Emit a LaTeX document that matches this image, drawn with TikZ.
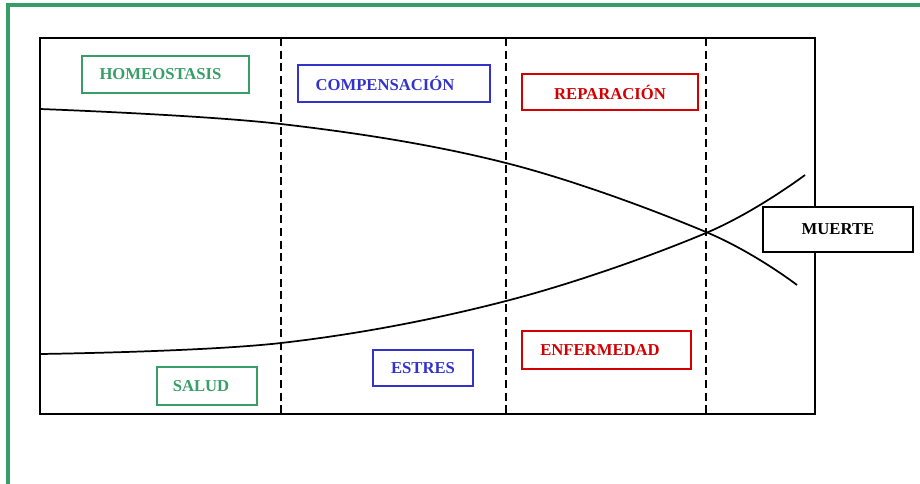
\documentclass[tikz,border=0pt]{standalone}
\usepackage{fontspec}
\setmainfont{Liberation Serif}
\definecolor{verde}{RGB}{56,158,104}
\definecolor{azul}{RGB}{51,51,204}
\definecolor{rojo}{RGB}{210,0,0}
\tikzset{
  etiqueta/.style={draw,line width=1.2pt,inner sep=0pt,
    font=\fontsize{12.5}{14}\selectfont\bfseries},
  limite/.style={line width=1.8pt,dash pattern=on 6pt off 3.5pt},
  curva/.style={line width=1.3pt}
}
\begin{document}
\begin{tikzpicture}[x=0.75pt,y=-0.75pt]
			\useasboundingbox (0,0) rectangle (920,484);
			% marco verde
			\draw [verde,line width=3pt] (7.5,490) -- (7.5,5.5) -- (930,5.5);
			% recuadro principal
			\draw [line width=1.3pt] (40,38) rectangle (815,414);
			\foreach \x in {281,506,706}
				\draw [limite] (\x,38) -- (\x,417);
			% curvas
			\draw [curva] plot [smooth,tension=0.6] coordinates {(40,109) (281,124) (506,163) (706,232) (797,285)};
			\draw [curva] plot [smooth,tension=0.6] coordinates {(40,354) (281,343) (506,301) (706,233) (805,175)};
			% etiquetas
			\node [etiqueta,verde,minimum width=125.25pt,minimum height=27.75pt] (homeostasis) at (165.5,74.5) {HOMEOSTASIS\hspace*{7.5pt}};
			\node [etiqueta,azul,minimum width=144pt,minimum height=27.75pt] (compensacion) at (394,83.5) {COMPENSACIÓN\hspace*{13.5pt}};
			\node [etiqueta,rojo,minimum width=132pt,minimum height=27pt] (reparacion) at (610,92) {REPARACIÓN};
			\node [etiqueta,fill=white,minimum width=112.5pt,minimum height=33.75pt] (muerte) at (838,229.5) {MUERTE};
			\node [etiqueta,verde,minimum width=75pt,minimum height=28.5pt] (salud) at (207,386) {SALUD\hspace*{9pt}};
			\node [etiqueta,azul,minimum width=75pt,minimum height=27pt] (estres) at (423,368) {ESTRES};
			\node [etiqueta,rojo,minimum width=126.75pt,minimum height=28.5pt] (enfermedad) at (606.5,350) {ENFERMEDAD\hspace*{9.75pt}};
\end{tikzpicture}
\end{document}
